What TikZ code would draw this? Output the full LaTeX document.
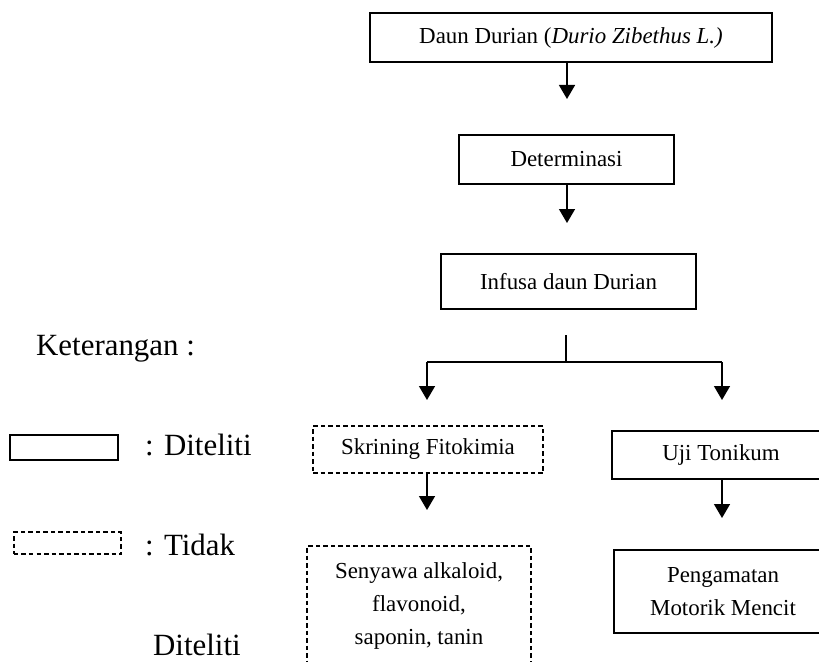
\documentclass[tikz,border=0pt]{standalone}
\usepackage{fontspec}
\setmainfont{Liberation Serif}
\usetikzlibrary{arrows.meta}
\begin{document}
\begin{tikzpicture}[x=1bp,y=-1bp,
  box/.style={draw, line width=1.6bp, align=center, inner sep=0pt,
    font=\fontsize{23}{33}\selectfont},
  dbox/.style={box, line width=1.3bp, dash pattern=on 4.5bp off 3bp},
  arr/.style={line width=1.5bp, -{Triangle[width=16bp,length=14bp]}},
  ln/.style={line width=1.5bp},
  big/.style={inner sep=0pt, anchor=base west, font=\fontsize{31}{36}\selectfont}]
\clip (0,0) rectangle (819,662);
\fill[white] (0,0) rectangle (819,662);

% flow nodes
\node[box, minimum width=402bp, minimum height=49bp] (top) at (571,37.5)
  {Daun Durian (\textit{Durio Zibethus L.)}};
\node[box, minimum width=215bp, minimum height=49bp] (det) at (566.5,159.5) {Determinasi};
\node[box, minimum width=255bp, minimum height=55bp] (inf) at (568.5,281.5) {Infusa daun Durian};
\node[dbox, minimum width=230bp, minimum height=47bp] (skr) at (428,449.5) {Skrining Fitokimia};
\node[dbox, minimum width=224bp, minimum height=120bp] (sen) at (419,606)
  {Senyawa alkaloid,\\flavonoid,\\saponin, tanin};
\node[box, minimum width=218bp, minimum height=48bp] (uji) at (721,455) {Uji Tonikum};
\node[box, minimum width=218bp, minimum height=83bp] (pen) at (723,591.5)
  {Pengamatan\\Motorik Mencit};

% arrows
\coordinate (t1) at (567,99);
\coordinate (t2) at (567,223);
\coordinate (b0) at (566,335);
\coordinate (bm) at (566,362);
\coordinate (bl) at (427,362);
\coordinate (br) at (722,362);
\coordinate (tl) at (427,400);
\coordinate (tr) at (722,400);
\coordinate (t3) at (427,510);
\coordinate (t4) at (722,518);
\draw[arr] (t1 |- top.south) -- (t1);
\draw[arr] (t2 |- det.south) -- (t2);
\draw[ln] (b0) -- (bm);
\draw[ln] (bl) -- (br);
\draw[arr] (bl) -- (tl);
\draw[arr] (br) -- (tr);
\draw[arr] (t3 |- skr.south) -- (t3);
\draw[arr] (t4 |- uji.south) -- (t4);

% legend
\node[big] (ket) at (36,355) {Keterangan :};
\node[draw, line width=1.6bp, minimum width=108bp, minimum height=25bp, inner sep=0pt] (lg1) at (64,447.5) {};
\node[big] (lt1) at (145,455) {: Diteliti};
\node[draw, line width=1.1bp, dash pattern=on 4.5bp off 3bp, minimum width=107bp, minimum height=22bp, inner sep=0pt] (lg2) at (67.5,543) {};
\node[big] (lt2) at (145,555) {: Tidak};
\node[big] (lt3) at (153,655) {Diteliti};
\end{tikzpicture}
\end{document}
